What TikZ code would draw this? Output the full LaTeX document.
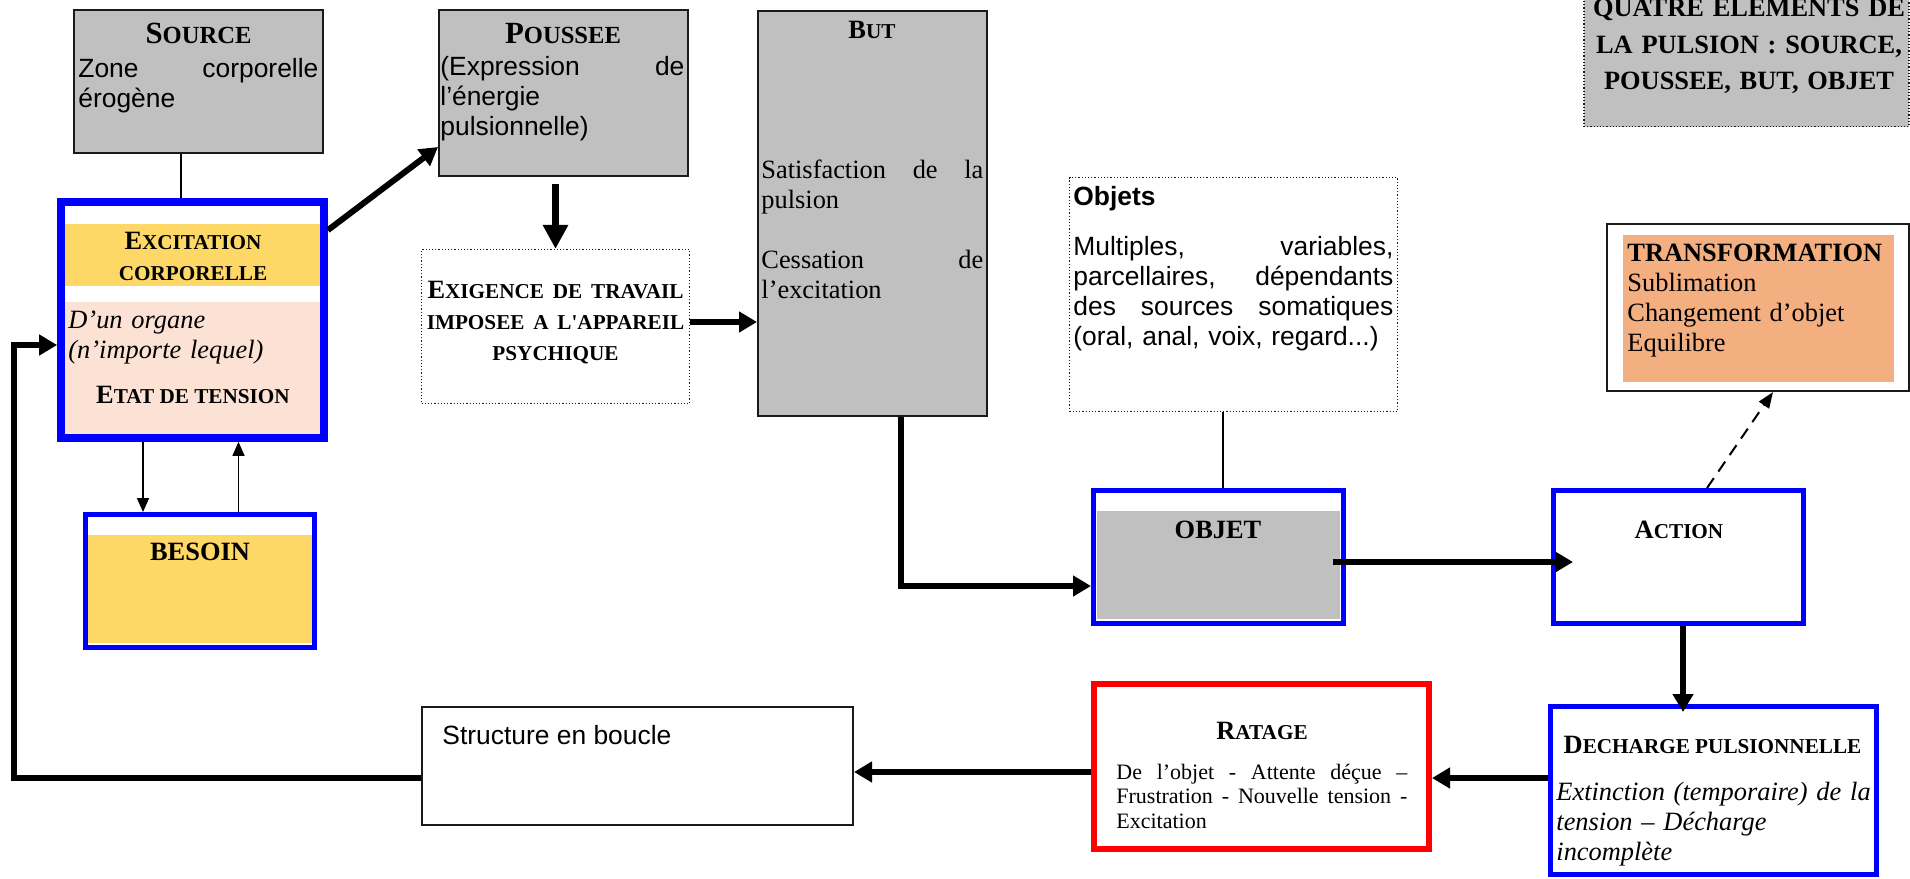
\documentclass[tikz,border=0pt]{standalone}
\usepackage{fontspec}
\setmainfont{Liberation Serif}
\newfontfamily\arial{Liberation Sans}
\usetikzlibrary{arrows.meta,fit,calc}
\definecolor{psInk}{HTML}{1A1A1A}
\definecolor{psBlue}{HTML}{0000FF}
\definecolor{psRed}{HTML}{FF0000}
\definecolor{psGrey}{HTML}{C0C0C0}
\definecolor{psYellow}{HTML}{FDD866}
\definecolor{psPeach}{HTML}{FBE2D5}
\definecolor{psOrange}{HTML}{F3AF80}
\newcommand\lowcap[1]{{\fontsize{10.6}{12}\selectfont #1}}
\newcommand\lowcapL[1]{{\fontsize{12.3}{14}\selectfont #1}}
\tikzset{
  box/.style      ={draw=psInk,line width=1pt,inner sep=0pt},
  greybox/.style  ={box,fill=psGrey},
  dotbox/.style   ={draw=psInk,line width=0.6pt,densely dotted,inner sep=0pt},
  bluebox/.style  ={draw=psBlue,line width=2.5pt,fill=white,inner sep=0pt},
  redbox/.style   ={draw=psRed,line width=3pt,fill=white,inner sep=0pt},
  flow/.style     ={-{Triangle[length=9pt,width=10pt]},line width=2.6pt},
  thinflow/.style ={-{Triangle[length=7pt,width=6pt]},line width=0.8pt},
  dashflow/.style ={-{Triangle[length=8pt,width=6pt]},line width=1pt,
                    dash pattern=on 6pt off 4pt},
  link/.style     ={line width=0.8pt},
  tm/.style       ={inner sep=0pt,font=\fontsize{13.2}{15}\selectfont},
  tmsmall/.style  ={inner sep=0pt,font=\fontsize{11}{12.25}\selectfont},
  ar/.style       ={inner sep=0pt,font=\arial\fontsize{13.2}{15}\selectfont},
  hd/.style       ={inner sep=0pt,font=\fontsize{13.2}{15.5}\selectfont\bfseries},
  hdL/.style      ={inner sep=0pt,font=\fontsize{15.4}{18}\selectfont\bfseries},
}

\begin{document}
\begin{tikzpicture}[x=0.5pt,y=-0.5pt]
\clip (0,0) rectangle (1910,878);
% ── boxes ──────────────────────────────────────────────────────────────────
\node[greybox,fit={(74,10) (323,153)}] (src) {};
\node[greybox,fit={(439,10) (688,176)}] (pou) {};
\node[greybox,fit={(758,11) (987,416)}] (but) {};
\node[dotbox,fill=psGrey,fit={(1584,-40) (1909,126.5)}] (qua) {};
\node[dotbox,fit={(421.5,249.5) (689.5,403.5)}] (exg) {};
\node[dotbox,fit={(1069.5,177.5) (1397.5,411.5)}] (objs) {};
\node[box,fill=white,fit={(1607,224) (1909,391)}] (trf) {};
\node[bluebox,line width=3.85pt,fit={(61,202) (324,438)}] (exc) {};
\node[bluebox,fit={(85.5,514.5) (314.5,647.5)}] (bes) {};
\node[bluebox,fit={(1093.5,490.5) (1343.5,623.5)}] (obj) {};
\node[bluebox,fit={(1553.5,490.5) (1803.5,623.5)}] (act) {};
\node[box,fill=white,fit={(422,707) (853,825)}] (str) {};
\node[redbox,fit={(1094,684) (1429,849)}] (rat) {};
\node[bluebox,fit={(1550.5,706.5) (1876.5,874.5)}] (dch) {};

% ── inner fills ────────────────────────────────────────────────────────────
\fill[psYellow] (65,224) rectangle (320,286);
\fill[psPeach] (65,302) rectangle (320,434);
\fill[psYellow] (88,535) rectangle (312,643);
\fill[psGrey] (1097,511) rectangle (1340,619);
\fill[psOrange] (1623,235) rectangle (1894,382);

% ── texts ──────────────────────────────────────────────────────────────────
\node[hdL,anchor=base] (srcT) at (198.5,43) {S\lowcapL{OURCE}};
\node[ar,anchor=base west,text width=120pt,align=left] (srcB) at (78,77)
  {Zone\hfill corporelle\\érogène};
\node[hdL,anchor=base] (pouT) at (563,43) {P\lowcapL{OUSSEE}};
\node[ar,anchor=base west,text width=122pt,align=left] (pouB) at (440,75)
  {(Expression\hfill de\\l’énergie\\pulsionnelle)};
\node[hd,anchor=base] (butT) at (872,38) {B\lowcap{UT}};
\node[tm,anchor=base west,text width=111pt,align=left] (butB) at (761,178)
  {Satisfaction\hfill de\hfill la\\pulsion\\[15pt]Cessation\hfill de\\l’excitation};
\node[inner sep=0pt,anchor=base,text width=165pt,align=center,
      font=\fontsize{13.2}{18}\selectfont\bfseries] (quaT) at (1749,17)
  {QUATRE ELEMENTS DE\\LA PULSION : SOURCE,\\POUSSEE, BUT, OBJET};
\node[hd,anchor=base,text width=134pt,align=center] (exgT) at (555.5,298)
  {E\lowcap{XIGENCE DE TRAVAIL}\\\lowcap{IMPOSEE A L\textquotesingle APPAREIL}\\\lowcap{PSYCHIQUE}};
\node[ar,anchor=base west,text width=160pt,align=left] (objsT) at (1073,205)
  {\textbf{Objets}\\[10pt]Multiples,\hfill variables,\\parcellaires,\hfill dépendants\\
   des\hfill sources\hfill somatiques\\(oral, anal, voix, regard...)};
\node[tm,anchor=base west,text width=130pt,align=left] (trfT) at (1627,261)
  {\textbf{TRANSFORMATION}\\Sublimation\\Changement d’objet\\Equilibre};
\node[hd,anchor=base,text width=130pt,align=center] (excT) at (193,249)
  {E\lowcap{XCITATION}\\\lowcap{CORPORELLE}};
\node[tm,anchor=base west,text width=120pt,align=left,font=\fontsize{13.2}{15}\selectfont\itshape]
  (excI) at (68,328) {D’un organe\\(n’importe lequel)};
\node[hd,anchor=base] (excE) at (193,403) {E\lowcap{TAT DE TENSION}};
\node[hd,anchor=base] (besT) at (200,560) {BESOIN};
\node[hd,anchor=base] (objT) at (1218,538) {OBJET};
\node[hd,anchor=base] (actT) at (1679,538) {A\lowcap{CTION}};
\node[ar,anchor=base west] (strT) at (442,744) {Structure en boucle};
\node[hd,anchor=base] (ratT) at (1262,739) {R\lowcap{ATAGE}};
\node[tmsmall,anchor=base west,text width=145.5pt,align=left] (ratB) at (1116,779)
  {De\hfill l’objet\hfill -\hfill Attente\hfill déçue\hfill –\\
   Frustration\hfill -\hfill Nouvelle\hfill tension\hfill -\\Excitation};
\node[hd,anchor=base] (dchT) at (1712.5,753) {D\lowcap{ECHARGE PULSIONNELLE}};
\node[tm,anchor=base west,text width=160pt,align=left,font=\fontsize{13.2}{15}\selectfont\itshape]
  (dchB) at (1556,800) {Extinction (temporaire) de la\\tension – Décharge\\incomplète};

% ── connectors ─────────────────────────────────────────────────────────────
\draw[link] ([xshift=-8.75pt]src.south) -- ([xshift=-8.75pt]src.south |- exc.north);
\draw[flow,line width=3pt] ([yshift=-16pt]exc.north east) -- ([yshift=15pt]pou.south west);
\draw[thinflow] ([xshift=-24.75pt]exc.south) -- ([xshift=-24.75pt]exc.south |- bes.north);
\draw[thinflow] ([xshift=23pt]exc.south |- bes.north) -- ([xshift=23pt]exc.south);
\draw[flow,line width=3.6pt,-{Triangle[length=12pt,width=12pt]}]
  ([yshift=-3.5pt]exg.north |- pou.south) -- (exg.north);
\draw[flow] ([yshift=2.25pt]exg.east) -- ([yshift=2.25pt]exg.east -| but.west);
\draw[flow] ([xshift=14.25pt]but.south) |- ([yshift=-14.5pt]obj.west);
\draw[link] ([xshift=-5.25pt]objs.south) -- ([xshift=-5.25pt]objs.south |- obj.north);
\draw[flow] ([shift={(-6.5pt,-2.5pt)}]obj.east) -- ([shift={(11pt,-2.5pt)}]act.west);
\draw[dashflow] ([xshift=14.25pt]act.north) -- ([xshift=7.5pt]trf.south);
\draw[flow,shorten >=-4pt] ([xshift=2.25pt]act.south) -- ([xshift=2.25pt]act.south |- dch.north);
\draw[flow] ([yshift=6.25pt]dch.west) -- ([yshift=6.25pt]dch.west -| rat.east);
\draw[flow] ([yshift=-2.75pt]rat.west) -- ([yshift=-2.75pt]rat.west -| str.east);
\draw[flow] ([yshift=-6pt]str.west) -- ++(-407,0) |- ([yshift=-12.5pt]exc.west);
\end{tikzpicture}
\end{document}
